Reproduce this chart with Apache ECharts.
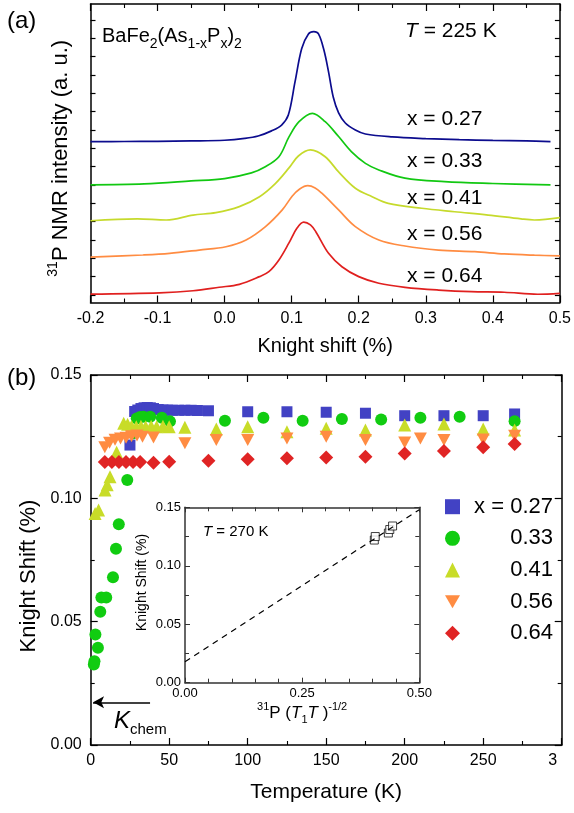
<!DOCTYPE html>
<html><head><meta charset="utf-8">
<script src="https://cdn.jsdelivr.net/npm/echarts@6/dist/echarts.min.js"></script>
<style>html,body{margin:0;padding:0;background:#fff}#c{width:574px;height:813px}</style>
</head><body><div id="c"></div>
<script>
const FONT = "'Liberation Sans', Arial, sans-serif";

// ---------- Panel (a): 31P NMR spectra at T = 225 K (offset, arb. units) ----------
const spec027X = [-0.20,-0.15,-0.10,-0.05,0.00,0.03,0.05,0.07,0.085,0.095,0.105,0.115,0.125,0.133,0.140,0.148,0.155,0.162,0.170,0.180,0.195,0.21,0.25,0.30,0.35,0.40,0.45,0.486];
const spec027Y = [8.77,8.78,8.79,8.81,8.85,8.95,9.08,9.36,9.68,10.22,12.03,13.85,14.65,14.77,14.65,13.78,12.58,11.21,10.34,9.79,9.41,9.19,9.03,8.94,8.88,8.84,8.81,8.77];
const spec033X = [-0.20,-0.12,-0.05,0.00,0.04,0.06,0.081,0.096,0.111,0.131,0.150,0.170,0.189,0.210,0.230,0.269,0.328,0.40,0.486];
const spec033Y = [6.42,6.47,6.63,6.76,7.07,7.39,7.95,9.03,9.86,10.32,9.86,9.05,8.23,7.59,7.23,6.78,6.59,6.49,6.41];
const spec041X = [-0.20,-0.13,-0.087,-0.047,-0.013,0.022,0.052,0.076,0.096,0.110,0.128,0.150,0.170,0.195,0.220,0.244,0.294,0.343,0.393,0.442,0.462,0.50];
const spec041Y = [4.46,4.56,4.50,4.77,4.90,5.23,5.77,6.50,7.34,7.99,8.32,7.95,7.12,6.23,5.77,5.41,5.14,4.95,4.77,4.56,4.50,4.63];
const spec056X = [-0.20,-0.122,-0.082,-0.038,0.002,0.032,0.061,0.086,0.101,0.112,0.124,0.135,0.145,0.170,0.195,0.230,0.269,0.319,0.373,0.417,0.462,0.50];
const spec056Y = [2.47,2.59,2.68,2.86,3.04,3.41,4.14,5.05,5.81,6.19,6.37,6.25,5.96,5.05,4.14,3.41,3.08,2.86,2.77,2.65,2.58,2.54];
const spec064X = [-0.20,-0.097,-0.047,-0.008,0.022,0.052,0.066,0.081,0.096,0.108,0.118,0.128,0.136,0.155,0.175,0.200,0.230,0.269,0.319,0.368,0.417,0.467,0.50];
const spec064Y = [0.46,0.53,0.64,0.83,0.99,1.41,1.68,2.32,3.25,4.06,4.38,4.23,3.86,2.68,1.95,1.41,1.05,0.83,0.68,0.59,0.56,0.45,0.50];
const specTicksA = [0.41,1.41,2.41,3.41,4.41,5.41,6.41,7.41,8.41,9.41,10.41,11.41,12.41,13.41,14.41,15.41];

// ---------- Panel (b): Knight shift vs temperature ----------
const temp027 = [25,28,30,32,34,36,38,40,43,46,49,52,56,60,64,68,75,100,125,150,175,200,225,250,270];
const shift027 = [0.1216,0.1352,0.1358,0.1364,0.1367,0.1368,0.1367,0.1364,0.1360,0.1358,0.1358,0.1357,0.1357,0.1357,0.1357,0.1356,0.1355,0.1351,0.1351,0.1349,0.1345,0.1335,0.1335,0.1335,0.1342];
const temp033 = [2.0,2.4,3.0,4.6,6.1,6.8,9.9,14.2,16.1,17.9,23.3,27.0,29.3,31.5,33.6,37.9,45.3,50.5,85.5,110,135,160,185,210,235,270];
const shift033 = [0.0326,0.0340,0.0448,0.0394,0.0540,0.0598,0.0598,0.0680,0.0796,0.0895,0.1074,0.1264,0.1324,0.1330,0.1331,0.1331,0.1327,0.1312,0.1315,0.1327,0.1315,0.1322,0.1320,0.1327,0.1331,0.1313];
const temp041 = [2.8,5.0,9.1,10.5,12.3,16.5,21,23.5,26,29,32,35,38.5,42,46,50,60,80,100,125,150,175,200,225,250,270];
const shift041 = [0.0939,0.0953,0.1034,0.1055,0.1088,0.1187,0.1304,0.1300,0.1292,0.1290,0.1292,0.1290,0.1292,0.1290,0.1292,0.1290,0.1288,0.1281,0.1290,0.1270,0.1284,0.1277,0.1297,0.1301,0.1281,0.1277];
const temp056 = [9,12,15.5,19,22.5,26,29.5,33,40,60,80,100,125,150,175,200,210,225,250,270];
const shift056 = [0.1207,0.1225,0.1238,0.1243,0.1246,0.1252,0.1255,0.1250,0.1247,0.1223,0.1236,0.1236,0.1243,0.1250,0.1236,0.1226,0.1243,0.1236,0.1239,0.1254];
const temp064 = [9,13.5,18,22.5,27,31.5,40,50,75,100,125,150,175,200,225,250,270];
const shift064 = [0.1147,0.1147,0.1147,0.1147,0.1147,0.1147,0.1144,0.1148,0.1152,0.1158,0.1162,0.1166,0.1169,0.1182,0.1192,0.1207,0.1220];
const kChem = 0.0173;
const kChemArrowT = [37.8, 1.5];

// ---------- Inset: K vs (T1 T)^-1/2 at T = 270 K ----------
const insetX = [0.404,0.406,0.434,0.437,0.443];
const insetY = [0.122,0.125,0.128,0.131,0.134];
const fitX = [0, 0.5];
const fitY = [0.018, 0.148];

const zip = (a, b) => a.map((v, i) => [v, b[i]]);

const C = {
  l027:'#0c0c8e', l033:'#12c812', l041:'#c6da2c', l056:'#ff8c42', l064:'#e0201f',
  m027:'#4242c4', m033:'#11cc11', m041:'#c8dc28', m056:'#ff8c42', m064:'#e02424'
};
const DOWN_TRI = 'path://M0,0 L10,0 L5,8.66 Z';

const frameLine = {show:true, onZero:false, lineStyle:{color:'#000', width:1.5}};
const tickIn = {show:true, inside:true, length:7, lineStyle:{color:'#000', width:1.2}};
const minorIn = (n) => ({show:true, splitNumber:n, length:4, lineStyle:{color:'#000', width:1.1}});
const lab = (size, margin, fmt) => ({show:true, fontFamily:FONT, fontSize:size, color:'#000', margin, formatter:fmt});

const chart = echarts.init(document.getElementById('c'), null, {renderer:'canvas'});

const option = {
  animation:false,
  backgroundColor:'#fff',
  grid:[
    {left:90.5, top:4, width:471.5, height:298.5},
    {left:90.7, top:375, width:471, height:370},
    {left:185, top:507.3, width:234.3, height:175.4}
  ],
  xAxis:[
    {gridIndex:0, type:'value', position:'bottom', min:-0.2, max:0.5, interval:0.1,
     axisLine:frameLine, axisTick:tickIn, minorTick:minorIn(2), splitLine:{show:false},
     axisLabel:lab(16, 8, v => v.toFixed(1)),
     name:'Knight shift (%)', nameLocation:'middle', nameGap:34,
     nameTextStyle:{fontFamily:FONT, fontSize:20, color:'#000'}},
    {gridIndex:0, type:'value', position:'top', min:-0.2, max:0.5, interval:0.1,
     axisLine:frameLine, axisTick:tickIn, minorTick:minorIn(2), splitLine:{show:false}, axisLabel:{show:false}},
    {gridIndex:1, type:'value', position:'bottom', min:0, max:300, interval:50,
     axisLine:frameLine, axisTick:tickIn, minorTick:minorIn(2), splitLine:{show:false},
     axisLabel:Object.assign(lab(16, 8, v => v === 300 ? '{r|3}' : String(v)),
       {rich:{r:{fontFamily:FONT, fontSize:16, color:'#000', padding:[0,18,0,0]}}}),
     name:'Temperature (K)', nameLocation:'middle', nameGap:37,
     nameTextStyle:{fontFamily:FONT, fontSize:21, color:'#000'}},
    {gridIndex:1, type:'value', position:'top', min:0, max:300, interval:50,
     axisLine:frameLine, axisTick:tickIn, minorTick:minorIn(2), splitLine:{show:false}, axisLabel:{show:false}},
    {gridIndex:2, type:'value', position:'bottom', min:0, max:0.5, interval:0.25,
     axisLine:{show:true, onZero:false, lineStyle:{color:'#333', width:1.5}},
     axisTick:{show:true, inside:true, length:5, lineStyle:{color:'#333'}}, minorTick:{show:true, splitNumber:5, length:4, lineStyle:{color:'#333'}},
     splitLine:{show:false},
     axisLabel:lab(13, 4, v => v.toFixed(2)),
     name:'{sp|31}{n|P (}{i|T}{sb|1}{i|T}{n| )}{sp|-1/2}', nameLocation:'middle', nameGap:19,
     nameTextStyle:{fontFamily:FONT, fontSize:17, color:'#000', rich:{
       sp:{fontFamily:FONT, fontSize:11, color:'#000', verticalAlign:'top', lineHeight:11},
       sb:{fontFamily:FONT, fontSize:11, color:'#000', verticalAlign:'bottom', lineHeight:11},
       n:{fontFamily:FONT, fontSize:17, color:'#000', lineHeight:24},
       i:{fontFamily:FONT, fontSize:17, fontStyle:'italic', color:'#000', lineHeight:24}}}},
    {gridIndex:2, type:'value', position:'top', min:0, max:0.5, interval:0.25,
     axisLine:{show:true, onZero:false, lineStyle:{color:'#333', width:1.5}},
     axisTick:{show:true, inside:true, length:5, lineStyle:{color:'#333'}}, minorTick:{show:true, splitNumber:5, length:4, lineStyle:{color:'#333'}},
     splitLine:{show:false}, axisLabel:{show:false}}
  ],
  yAxis:[
    {gridIndex:0, type:'value', position:'left', min:0, max:16.28,
     axisLine:frameLine, axisTick:Object.assign({}, tickIn, {length:5, customValues:specTicksA}),
     splitLine:{show:false}, axisLabel:{show:false},
     name:'{sp|31}{n|P NMR intensity (a. u.)}', nameLocation:'middle', nameGap:16,
     nameTextStyle:{fontFamily:FONT, fontSize:22, color:'#000', padding:[0,10,0,0], rich:{
       sp:{fontFamily:FONT, fontSize:14, color:'#000', verticalAlign:'top', lineHeight:14},
       n:{fontFamily:FONT, fontSize:22, color:'#000', lineHeight:28}}}},
    {gridIndex:0, type:'value', position:'right', min:0, max:16.28,
     axisLine:frameLine, axisTick:Object.assign({}, tickIn, {length:5, customValues:specTicksA}),
     splitLine:{show:false}, axisLabel:{show:false}},
    {gridIndex:1, type:'value', position:'left', min:0, max:0.15, interval:0.05,
     axisLine:frameLine, axisTick:tickIn, minorTick:minorIn(2), splitLine:{show:false},
     axisLabel:lab(16, 9, v => v.toFixed(2)),
     name:'Knight Shift (%)', nameLocation:'middle', nameGap:48,
     nameTextStyle:{fontFamily:FONT, fontSize:22, color:'#000', padding:[0,32,0,0]}},
    {gridIndex:1, type:'value', position:'right', min:0, max:0.15, interval:0.05,
     axisLine:frameLine, axisTick:tickIn, minorTick:minorIn(2), splitLine:{show:false}, axisLabel:{show:false}},
    {gridIndex:2, type:'value', position:'left', min:0, max:0.15, interval:0.05,
     axisLine:{show:true, onZero:false, lineStyle:{color:'#333', width:1.5}},
     axisTick:{show:true, inside:true, length:5, lineStyle:{color:'#333'}}, minorTick:{show:true, splitNumber:2, length:4, lineStyle:{color:'#333'}},
     splitLine:{show:false},
     axisLabel:lab(13, 4, v => v.toFixed(2)),
     name:'Knight Shift (%)', nameLocation:'middle', nameGap:36,
     nameTextStyle:{fontFamily:FONT, fontSize:14, color:'#000', padding:[0,0,0,25]}},
    {gridIndex:2, type:'value', position:'right', min:0, max:0.15, interval:0.05,
     axisLine:{show:true, onZero:false, lineStyle:{color:'#333', width:1.5}},
     axisTick:{show:true, inside:true, length:5, lineStyle:{color:'#333'}}, minorTick:{show:true, splitNumber:2, length:4, lineStyle:{color:'#333'}},
     splitLine:{show:false}, axisLabel:{show:false}}
  ],
  legend:{
    data:[{name:'x = 0.27', icon:'rect'}, {name:'0.33', icon:'circle'}, {name:'0.41', icon:'triangle'},
          {name:'0.56', icon:DOWN_TRI}, {name:'0.64', icon:'diamond'}],
    orient:'vertical', left:440, top:490.7, itemWidth:15, itemHeight:15, itemGap:9.65,
    selectedMode:false, symbolRotate:0,
    formatter: n => '{r|' + n + '}',
    textStyle:{fontFamily:FONT, fontSize:22, color:'#000', lineHeight:22,
      rich:{r:{fontFamily:FONT, fontSize:22, color:'#000', width:88, align:'right', lineHeight:22}}}
  },
  series:[
    {type:'line', name:'spec 0.27', xAxisIndex:0, yAxisIndex:0, data:zip(spec027X, spec027Y), smooth:0.35, showSymbol:false, lineStyle:{color:C.l027, width:1.7}, silent:true},
    {type:'line', name:'spec 0.33', xAxisIndex:0, yAxisIndex:0, data:zip(spec033X, spec033Y), smooth:0.35, showSymbol:false, lineStyle:{color:C.l033, width:1.7}, silent:true},
    {type:'line', name:'spec 0.41', xAxisIndex:0, yAxisIndex:0, data:zip(spec041X, spec041Y), smooth:0.35, showSymbol:false, lineStyle:{color:C.l041, width:1.7}, silent:true},
    {type:'line', name:'spec 0.56', xAxisIndex:0, yAxisIndex:0, data:zip(spec056X, spec056Y), smooth:0.35, showSymbol:false, lineStyle:{color:C.l056, width:1.7}, silent:true},
    {type:'line', name:'spec 0.64', xAxisIndex:0, yAxisIndex:0, data:zip(spec064X, spec064Y), smooth:0.35, showSymbol:false, lineStyle:{color:C.l064, width:1.7}, silent:true},

    {type:'scatter', name:'x = 0.27', xAxisIndex:2, yAxisIndex:2, data:zip(temp027, shift027), symbol:'rect', symbolSize:11, itemStyle:{color:C.m027, opacity:1}},
    {type:'scatter', name:'0.33', xAxisIndex:2, yAxisIndex:2, data:zip(temp033, shift033), symbol:'circle', symbolSize:12, itemStyle:{color:C.m033, opacity:1}},
    {type:'scatter', name:'0.41', xAxisIndex:2, yAxisIndex:2, data:zip(temp041, shift041), symbol:'triangle', symbolSize:13, itemStyle:{color:C.m041, opacity:1}},
    {type:'scatter', name:'0.56', xAxisIndex:2, yAxisIndex:2, data:zip(temp056, shift056), symbol:DOWN_TRI, symbolSize:[13,12], itemStyle:{color:C.m056, opacity:1}},
    {type:'scatter', name:'0.64', xAxisIndex:2, yAxisIndex:2, data:zip(temp064, shift064), symbol:'diamond', symbolSize:[14,14], itemStyle:{color:C.m064, opacity:1},
     markLine:{silent:true, symbol:['none','arrow'], symbolSize:[9,11], label:{show:false},
       lineStyle:{color:'#000', type:'solid', width:1.5},
       data:[[{coord:[kChemArrowT[0], kChem]}, {coord:[kChemArrowT[1], kChem]}]]}},

    {type:'line', name:'fit', xAxisIndex:4, yAxisIndex:4, data:zip(fitX, fitY), showSymbol:false,
     lineStyle:{color:'#000', width:1.2, type:[6,5]}, silent:true},
    {type:'scatter', name:'inset', xAxisIndex:4, yAxisIndex:4, data:zip(insetX, insetY), symbol:'rect', symbolSize:8,
     itemStyle:{color:'#fff', borderColor:'#111', borderWidth:1}, silent:true}
  ],
  graphic:[
    {type:'text', x:7, y:21, style:{text:'(a)', font:`24px ${FONT}`, fill:'#000', align:'left', verticalAlign:'middle'}},
    {type:'text', x:7, y:378, style:{text:'(b)', font:`24px ${FONT}`, fill:'#000', align:'left', verticalAlign:'middle'}},
    {type:'text', x:102, y:36, style:{text:'{m|BaFe}{s|2}{m|(As}{s|1-x}{m|P}{s|x}{m|)}{s|2}', fill:'#000', align:'left', verticalAlign:'middle',
      rich:{m:{fontFamily:FONT, fontSize:20, lineHeight:30, fill:'#000'}, s:{fontFamily:FONT, fontSize:14, lineHeight:14, verticalAlign:'bottom', fill:'#000'}}}},
    {type:'text', x:405, y:31.5, style:{text:'{i|T}{n| = 225 K}', fill:'#000', align:'left', verticalAlign:'middle',
      rich:{i:{fontFamily:FONT, fontSize:21, fontStyle:'italic', fill:'#000'}, n:{fontFamily:FONT, fontSize:21, fill:'#000'}}}},
    {type:'text', x:407, y:119, style:{text:'x = 0.27', font:`21px ${FONT}`, fill:'#000', align:'left', verticalAlign:'middle'}},
    {type:'text', x:407, y:161.5, style:{text:'x = 0.33', font:`21px ${FONT}`, fill:'#000', align:'left', verticalAlign:'middle'}},
    {type:'text', x:407, y:198, style:{text:'x = 0.41', font:`21px ${FONT}`, fill:'#000', align:'left', verticalAlign:'middle'}},
    {type:'text', x:407, y:234, style:{text:'x = 0.56', font:`21px ${FONT}`, fill:'#000', align:'left', verticalAlign:'middle'}},
    {type:'text', x:407, y:275.8, style:{text:'x = 0.64', font:`21px ${FONT}`, fill:'#000', align:'left', verticalAlign:'middle'}},
    {type:'text', x:203, y:532.3, style:{text:'{i|T}{n| = 270 K}', fill:'#000', align:'left', verticalAlign:'middle',
      rich:{i:{fontFamily:FONT, fontSize:15, fontStyle:'italic', fill:'#000'}, n:{fontFamily:FONT, fontSize:15, fill:'#000'}}}},
    {type:'text', x:114, y:721, style:{text:'{k|K}{c|chem}', fill:'#000', align:'left', verticalAlign:'middle',
      rich:{k:{fontFamily:FONT, fontSize:24, fontStyle:'italic', lineHeight:32, fill:'#000'}, c:{fontFamily:FONT, fontSize:15, lineHeight:15, verticalAlign:'bottom', fill:'#000'}}}}
  ]
};
chart.setOption(option);
</script>
</body></html>
